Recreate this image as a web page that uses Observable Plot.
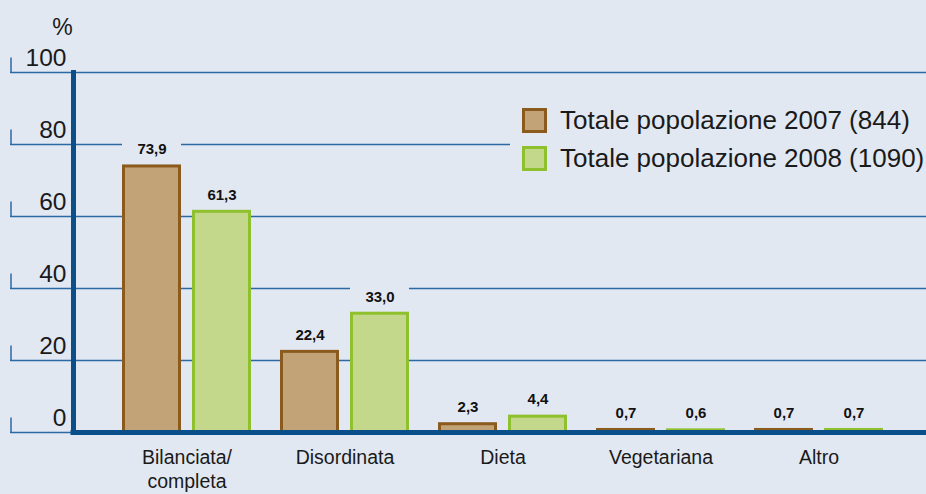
<!DOCTYPE html>
<html>
<head>
<meta charset="utf-8">
<script src="https://cdn.jsdelivr.net/npm/d3@7"></script>
<script src="https://cdn.jsdelivr.net/npm/@observablehq/plot@0.6"></script>
<style>
  html, body { margin: 0; padding: 0; background: #e1e8f2; }
  #wrap { position: relative; width: 926px; height: 494px; background: #e1e8f2; font-family: "Liberation Sans", Arial, sans-serif; }
  #legend { position: absolute; left: 510px; top: 101px; width: 416px; background: #e1e8f2; }
  .row { display: flex; align-items: center; height: 38.5px; padding-left: 12px; font-size: 26px; color: #1a1a1a; }
  .sw { width: 25px; height: 25px; box-sizing: border-box; border: 3px solid; margin-right: 13px; flex: none; }
</style>
</head>
<body>
<div id="wrap"></div>
<script>
const categories = ["Bilanciata/\ncompleta", "Disordinata", "Dieta", "Vegetariana", "Altro"];
const values2007 = [73.9, 22.4, 2.3, 0.7, 0.7];
const values2008 = [61.3, 33.0, 4.4, 0.6, 0.7];
const seriesNames = ["Totale popolazione 2007 (844)", "Totale popolazione 2008 (1090)"];
const yTicks = [0, 20, 40, 60, 80, 100];
const yUnit = "%";

const bg = "#e1e8f2";
const gridColor = "#2d6aa5";
const axisColor = "#0b4f8a";
const fills = ["#c2a277", "#c4d88b"];
const strokes = ["#8b5a1d", "#8fc02e"];

const rows = categories.map((c, i) => ({category: c, v2007: values2007[i], v2008: values2008[i]}));
const fmt = v => v.toFixed(1).replace(".", ",");

const tickSymbol = { draw(ctx) { ctx.moveTo(0, 0); ctx.lineTo(0, -15); } };

const labelStyle = {fontFamily: "'Liberation Sans Narrow', 'Liberation Sans', Arial, sans-serif", fontWeight: "bold", fontSize: 15, fill: "#111", lineAnchor: "middle", dy: -17};
const boxStyle = {fill: bg, insetTop: -27, insetBottom: 9};

const chart = Plot.plot({
  width: 926, height: 494,
  marginLeft: 73, marginRight: 0, marginTop: 72, marginBottom: 62,
  style: {background: "transparent", fontFamily: "'Liberation Sans', Arial, sans-serif", color: "#1a1a1a"},
  x: {domain: categories, range: [106.4, 897.6], paddingInner: 0.185, paddingOuter: 0.0925, axis: null},
  y: {domain: [0, 100], axis: null},
  marks: [
    Plot.ruleY(yTicks, {stroke: gridColor, strokeWidth: 1.5, insetLeft: -63}),
    Plot.dot(yTicks, {y: d => d, frameAnchor: "left", dx: -62.5, symbol: tickSymbol, stroke: gridColor, strokeWidth: 1.5, fill: "none"}),
    Plot.barY(rows, {x: "category", y1: "v2007", y2: "v2007", insetLeft: 0, insetRight: 70, ...boxStyle}),
    Plot.barY(rows, {x: "category", y1: "v2008", y2: "v2008", insetLeft: 70, insetRight: 0, ...boxStyle}),
    Plot.barY(rows, {x: "category", y: "v2007", fill: fills[0], stroke: strokes[0], strokeWidth: 3, insetLeft: 1.5, insetRight: 71.5}),
    Plot.barY(rows, {x: "category", y: "v2008", fill: fills[1], stroke: strokes[1], strokeWidth: 3, insetLeft: 71.5, insetRight: 1.5}),
    Plot.text(rows, {x: "category", y: "v2007", text: d => fmt(d.v2007), dx: -35, ...labelStyle}),
    Plot.text(rows, {x: "category", y: "v2008", text: d => fmt(d.v2008), dx: 35, ...labelStyle}),
    Plot.ruleY([0], {stroke: axisColor, strokeWidth: 5, insetLeft: -2.5}),
    Plot.frame({anchor: "left", stroke: axisColor, strokeWidth: 5}),
    Plot.axisY(yTicks, {tickSize: 0, tickPadding: 7, dy: -14, fontSize: 24.5, label: null}),
    Plot.axisX({tickSize: 0, tickPadding: 14, fontSize: 19.5, label: null, lineHeight: 1.25}),
    Plot.text([yUnit], {frameAnchor: "top-left", textAnchor: "middle", dx: -11, dy: -45, fontSize: 23, lineAnchor: "middle"})
  ]
});

const wrap = document.getElementById("wrap");
wrap.appendChild(chart);

const legend = document.createElement("div");
legend.id = "legend";
seriesNames.forEach((name, i) => {
  const row = document.createElement("div");
  row.className = "row";
  const sw = document.createElement("div");
  sw.className = "sw";
  sw.style.background = fills[i];
  sw.style.borderColor = strokes[i];
  const t = document.createElement("span");
  t.textContent = name;
  row.appendChild(sw);
  row.appendChild(t);
  legend.appendChild(row);
});
wrap.appendChild(legend);
</script>
</body>
</html>
